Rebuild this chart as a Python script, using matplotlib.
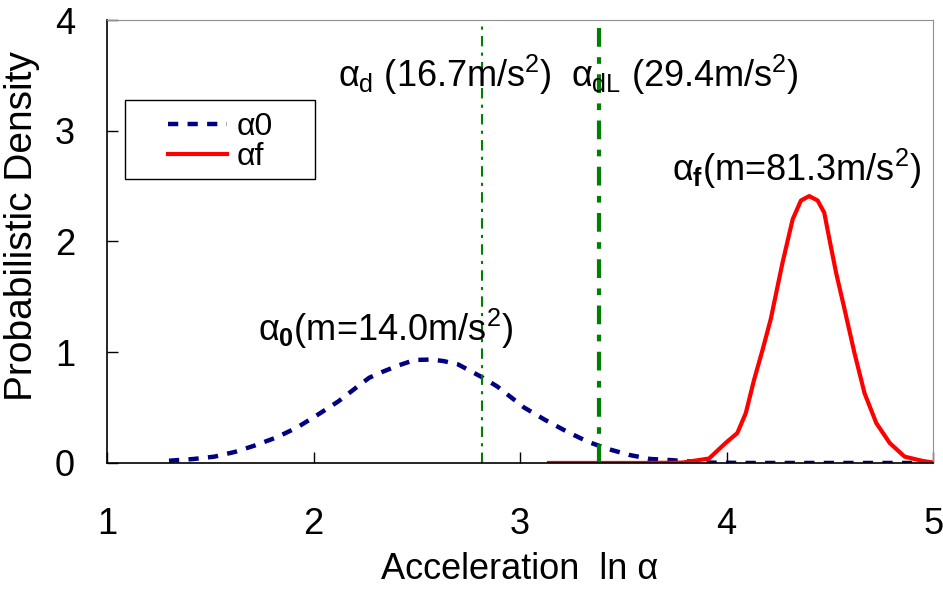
import numpy as np
import matplotlib
matplotlib.use("Agg")
from matplotlib import pyplot as plt
from matplotlib.patches import Rectangle

plt.rcParams["font.family"] = ["Liberation Sans", "DejaVu Sans"]
plt.rcParams["mathtext.fontset"] = "custom"
plt.rcParams["mathtext.rm"] = "Liberation Sans"
plt.rcParams["mathtext.it"] = "Liberation Sans"
plt.rcParams["mathtext.bf"] = "Liberation Sans:bold"

# alpha0 density (dashed blue)
a0_x = [1.30, 1.42, 1.52, 1.62, 1.71, 1.82, 1.92, 2.02, 2.12, 2.22, 2.27, 2.33,
        2.41, 2.49, 2.57, 2.63, 2.70, 2.76, 2.82, 2.89, 3.02, 3.12, 3.23, 3.33,
        3.43, 3.53, 3.63, 3.72, 3.83, 3.93, 4.10, 4.30, 4.50, 4.70, 4.90, 5.00]
a0_y = [0.02, 0.036, 0.057, 0.10, 0.154, 0.23, 0.32, 0.435, 0.556, 0.70, 0.77, 0.82,
        0.88, 0.93, 0.934, 0.92, 0.89, 0.83, 0.77, 0.69, 0.50, 0.39, 0.28, 0.19,
        0.124, 0.072, 0.036, 0.027, 0.012, 0.003, 0.0, 0.0, 0.0, 0.0, 0.0, 0.0]

# alphaf density (solid red)
af_x = [3.14, 3.40, 3.60, 3.785, 3.915, 3.995, 4.052, 4.093, 4.133, 4.174, 4.214,
        4.271, 4.32, 4.36, 4.40, 4.441, 4.473, 4.498, 4.530, 4.571, 4.619, 4.668,
        4.725, 4.79, 4.862, 4.95, 5.00]
af_y = [0.0, 0.0, 0.0, 0.003, 0.04, 0.18, 0.27, 0.45, 0.75, 1.02, 1.30,
        1.81, 2.20, 2.37, 2.41, 2.37, 2.26, 2.02, 1.72, 1.39, 0.995, 0.63,
        0.36, 0.18, 0.057, 0.018, 0.003]

# design accelerations (m/s^2), drawn at ln(value)
accel_d = 16.7
accel_dl = 29.4

fig = plt.figure(figsize=(9.43, 5.89), dpi=100)
ax = fig.add_axes([0.1135, 0.214, 0.876, 0.752])

ax.plot(a0_x, a0_y, color="#000080", lw=3.2, dashes=(2.3, 2.1), label="α0")
ax.plot(af_x, af_y, color="#ff0000", lw=3.0, label="αf")

ax.axvline(np.log(accel_d), color="#008000", lw=1.5, dashes=(5, 3, 1.5, 3))
ax.axvline(np.log(accel_dl), color="#008000", lw=3.0, dashes=(4.5, 2.5, 1.6, 2.5))

fs = 26
ax.text(2.636, 3.50, r"$\alpha_{\mathrm{d}}$ (16.7m/s$^2$)", ha="center", va="center", fontsize=fs)
ax.text(3.80, 3.50, r"$\alpha_{\mathrm{dL}}$ (29.4m/s$^2$)", ha="center", va="center", fontsize=fs)
ax.text(4.34, 2.66, r"$\alpha_{\mathbf{f}}$(m=81.3m/s$^2$)", ha="center", va="center", fontsize=fs)
ax.text(2.35, 1.21, r"$\alpha_{\mathbf{0}}$(m=14.0m/s$^2$)", ha="center", va="center", fontsize=fs)

ax.set_xlim(1, 5)
ax.set_ylim(0, 4)
ax.set_xticks([1, 2, 3, 4, 5])
ax.set_yticks([0, 1, 2, 3, 4])
ax.tick_params(direction="in", length=8, width=1, labelsize=fs)
ax.tick_params(axis="x", pad=32)
ax.tick_params(axis="y", pad=23)
for side in ("top", "right"):
    ax.spines[side].set_color("#909090")
for side in ("left", "bottom"):
    ax.spines[side].set_color("black")
    ax.spines[side].set_linewidth(1.2)

ax.set_xlabel("Acceleration  ln α", fontsize=fs)
ax.xaxis.set_label_coords(0.5, -0.20)
ax.set_ylabel("Probabilistic Density", fontsize=28)
ax.yaxis.set_label_coords(-0.081, 0.535)

# legend: frameless entries inside a hand-placed box
ax.add_patch(Rectangle((0.0218, 0.6417), 0.23, 0.1769, transform=ax.transAxes,
                       facecolor="white", edgecolor="black", lw=1.0, zorder=5))
leg = ax.legend(loc="upper left", bbox_to_anchor=(0.0738, 0.792), fontsize=23,
                frameon=False, handlelength=1.85, handletextpad=0.3,
                labelspacing=0.0, borderpad=0, borderaxespad=0)
leg.set_zorder(6)

fig.savefig("out.png", dpi=100)
